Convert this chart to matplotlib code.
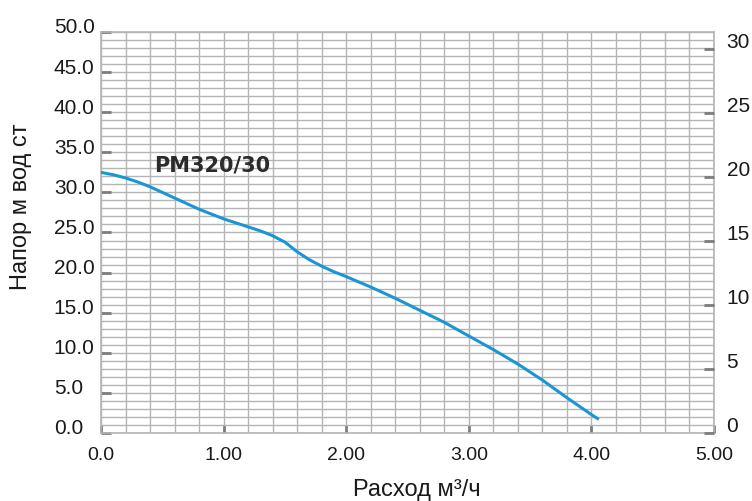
import numpy as np
import matplotlib.pyplot as plt
from matplotlib.ticker import MultipleLocator
from matplotlib.transforms import ScaledTranslation

# flow (m3/h) and head (m)
flow = [0.0, 0.1, 0.2, 0.3, 0.4, 0.5, 0.6, 0.7, 0.8, 0.9, 1.0, 1.1, 1.2, 1.3,
        1.4, 1.5, 1.6, 1.7, 1.8, 1.9, 2.0, 2.2, 2.4, 2.6, 2.8, 3.0, 3.2,
        3.4, 3.6, 3.8, 4.0, 4.06]
head = [32.5, 32.2, 31.8, 31.3, 30.7, 30.0, 29.3, 28.6, 27.9, 27.3, 26.7, 26.2,
        25.7, 25.2, 24.6, 23.8, 22.6, 21.6, 20.8, 20.1, 19.5, 18.2, 16.8, 15.3,
        13.8, 12.1, 10.4, 8.6, 6.6, 4.4, 2.3, 1.7]

x_ticks = [0, 1, 2, 3, 4, 5]
x_labels = ['0.0', '1.00', '2.00', '3.00', '4.00', '5.00']
y_ticks = [0, 5, 10, 15, 20, 25, 30, 35, 40, 45, 50]
y_labels = ['%.1f' % v for v in y_ticks]
y2_ticks = [0, 5, 10, 15, 20, 25, 30]
y2_labels = [str(v) for v in y2_ticks]

plt.rcParams['font.family'] = ['Liberation Sans', 'DejaVu Sans']

grid_c = '#b5b5b5'
tick_c = '#7d7d7d'
text_c = '#1a1a1a'

fig = plt.figure(figsize=(7.52, 5.01), dpi=100)
ax = fig.add_axes([101 / 752, 1 - 433 / 501, 613 / 752, 401 / 501])

ax.plot(flow, head, color='#1a96d4', lw=2.2, solid_capstyle='butt',
        solid_joinstyle='round', zorder=3)

ax.set_xlim(0, 5)
ax.set_ylim(0, 50)
ax.xaxis.set_minor_locator(MultipleLocator(0.2))
ax.yaxis.set_minor_locator(MultipleLocator(1))
ax.grid(which='both', color=grid_c, lw=1.0)
ax.set_axisbelow(True)

ax.set_xticks(x_ticks)
ax.set_xticklabels(x_labels)
ax.set_yticks(y_ticks)
ax.set_yticklabels(y_labels)
ax.tick_params(which='minor', length=0)
ax.tick_params(axis='x', which='major', direction='in', length=6, width=2,
               color=tick_c, labelsize=14, labelcolor=text_c, pad=10)
ax.tick_params(axis='y', which='major', direction='in', length=7, width=2,
               color=tick_c, labelsize=15, labelcolor=text_c, pad=34)
for lab in ax.get_yticklabels():
    lab.set_horizontalalignment('left')
    lab.set_transform(lab.get_transform() + ScaledTranslation(0, 6 / 100, fig.dpi_scale_trans))

for s in ax.spines.values():
    s.set_color(grid_c)
    s.set_linewidth(1.2)

ax.set_xlabel('Расход м³/ч', fontsize=17, color=text_c)
ax.xaxis.set_label_coords(0.515, -0.115)
ax.set_ylabel('Напор м вод ст', fontsize=17, color=text_c)
ax.yaxis.set_label_coords(-0.113, 0.563)

ax2 = ax.twinx()
ax2.set_ylim(0, 401 / 12.8)
ax2.set_yticks(y2_ticks)
ax2.set_yticklabels(y2_labels)
ax2.tick_params(axis='y', direction='in', length=7, width=2, color=tick_c,
                labelsize=15, labelcolor=text_c, pad=9)
for lab in ax2.get_yticklabels():
    lab.set_transform(lab.get_transform() + ScaledTranslation(0, 9 / 100, fig.dpi_scale_trans))
for s in ax2.spines.values():
    s.set_visible(False)

ax.text(0.43, 33.4, 'PM320/30', fontsize=15, fontweight='bold',
        family='DejaVu Sans', color='#2b2b2b', va='center')

fig.savefig('out.png', dpi=100)
